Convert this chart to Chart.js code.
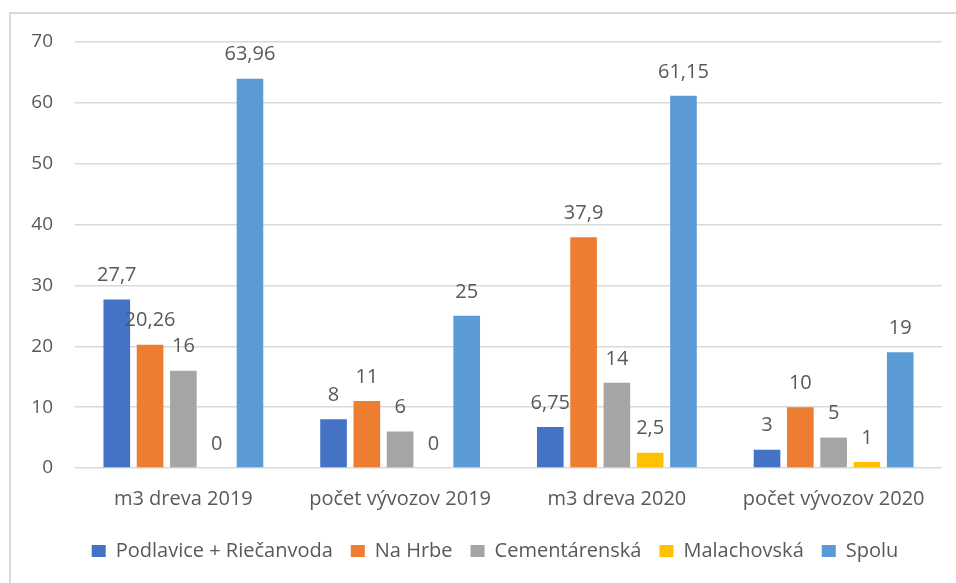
<!DOCTYPE html>
<html>
<head>
<meta charset="utf-8">
<script src="https://cdn.jsdelivr.net/npm/chart.js@4.4.0/dist/chart.umd.min.js"></script>
<style>
  body { margin: 0; background: #fff; }
  .wrap { position: relative; width: 956px; height: 583px; overflow: hidden; }
  .frame { position: absolute; left: 9px; top: 12px; width: 980px; height: 600px; border: 2px solid #d9d9d9; }
  canvas { position: absolute; left: 0; top: 0; }
</style>
</head>
<body>
<div class="wrap">
  <div class="frame"></div>
  <canvas id="chart" width="956" height="583"></canvas>
</div>
<script>
const categories = ["m3 dreva 2019", "počet vývozov 2019", "m3 dreva 2020", "počet vývozov 2020"];
const podlavice = [27.7, 8, 6.75, 3];
const naHrbe = [20.26, 11, 37.9, 10];
const cementarenska = [16, 6, 14, 5];
const malachovska = [0, 0, 2.5, 1];
const spolu = [63.96, 25, 61.15, 19];

const fontFamily = "'Open Sans', 'Noto Sans', sans-serif";
const textColor = "#595959";

// labels above each bar, with decimal comma
const barLabels = {
  id: "barLabels",
  afterDatasetsDraw(chart) {
    const ctx = chart.ctx;
    ctx.save();
    ctx.font = `20px ${fontFamily}`;
    ctx.fillStyle = textColor;
    ctx.textAlign = "center";
    ctx.textBaseline = "middle";
    chart.data.datasets.forEach((ds, i) => {
      const meta = chart.getDatasetMeta(i);
      meta.data.forEach((bar, j) => {
        const txt = String(ds.data[j]).replace(".", ",");
        ctx.fillText(txt, bar.x, bar.y - 24);
      });
    });
    ctx.restore();
  },
};

// nudge the legend a bit right, like in the excel original
const legendShift = {
  id: "legendShift",
  afterLayout(chart) {
    if (chart.legend) {
      chart.legend.left += 19;
      chart.legend.right += 19;
    }
  },
};

const ctx = document.getElementById("chart").getContext("2d");

new Chart(ctx, {
  type: "bar",
  data: {
    labels: categories,
    datasets: [
      { label: "Podlavice + Riečanvoda", data: podlavice, backgroundColor: "#4472C4" },
      { label: "Na Hrbe", data: naHrbe, backgroundColor: "#ED7D31" },
      { label: "Cementárenská", data: cementarenska, backgroundColor: "#A5A5A5" },
      { label: "Malachovská", data: malachovska, backgroundColor: "#FFC000" },
      { label: "Spolu", data: spolu, backgroundColor: "#5B9BD5" },
    ],
  },
  options: {
    responsive: false,
    animation: false,
    barPercentage: 0.8,
    categoryPercentage: 0.768,
    layout: {
      padding: { top: 42, left: 10, right: 14, bottom: 12 },
    },
    scales: {
      x: {
        afterFit: (s) => {
          s.height = s.height - 7;
        },
        grid: { display: false, drawTicks: false },
        border: { display: false },
        ticks: {
          color: textColor,
          font: { family: fontFamily, size: 20 },
          padding: 19,
        },
      },
      y: {
        min: 0,
        max: 70,
        afterFit: (s) => {
          s.width = 65;
        },
        grid: { color: "#d9d9d9", lineWidth: 1.5, drawTicks: false },
        border: { display: false },
        ticks: {
          stepSize: 10,
          color: textColor,
          font: { family: fontFamily, size: 19 },
          padding: 22,
        },
      },
    },
    plugins: {
      legend: {
        position: "bottom",
        labels: {
          color: textColor,
          font: { family: fontFamily, size: 20 },
          boxWidth: 14,
          boxHeight: 12,
          padding: 18,
        },
      },
      tooltip: { enabled: false },
    },
  },
  plugins: [barLabels, legendShift],
});
</script>
</body>
</html>
